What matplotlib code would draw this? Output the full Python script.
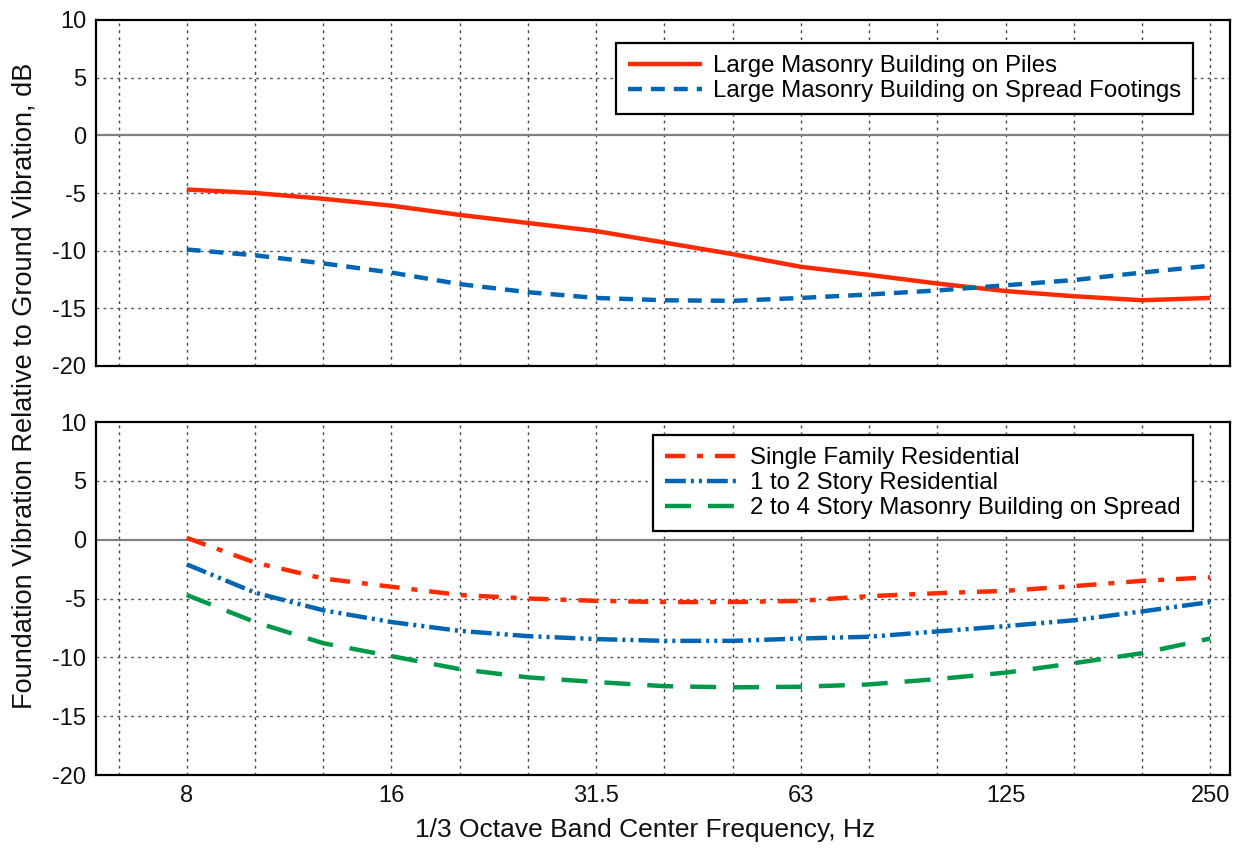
import matplotlib
matplotlib.use("Agg")
import matplotlib.pyplot as plt
import numpy as np

plt.rcParams['font.family'] = ['Liberation Sans', 'DejaVu Sans']
plt.rcParams['lines.scale_dashes'] = False

# 1/3 octave band centre frequencies (Hz) shown on the chart
bands = ['6.3', '8', '10', '12.5', '16', '20', '25', '31.5', '40', '50',
         '63', '80', '100', '125', '160', '200', '250']
data_bands = bands[1:]  # curves span 8 .. 250 Hz
tick_labels = ['8', '16', '31.5', '63', '125', '250']

# Upper panel
piles = [-4.7, -5.0, -5.5, -6.1, -6.9, -7.6, -8.3, -9.3, -10.3, -11.4,
         -12.1, -12.85, -13.5, -13.95, -14.3, -14.1]
spread_footings = [-9.9, -10.4, -11.1, -11.9, -12.9, -13.6, -14.1, -14.3, -14.35,
                   -14.1, -13.8, -13.45, -13.0, -12.55, -11.9, -11.3]

# Lower panel
single_family = [0.15, -1.95, -3.3, -4.0, -4.7, -5.0, -5.2, -5.3, -5.3, -5.2,
                 -4.8, -4.55, -4.35, -3.95, -3.5, -3.2]
story_1_2 = [-2.1, -4.5, -6.0, -7.0, -7.75, -8.2, -8.45, -8.6, -8.6, -8.4,
             -8.25, -7.8, -7.35, -6.85, -6.1, -5.3]
story_2_4 = [-4.7, -7.0, -8.8, -9.9, -11.0, -11.7, -12.1, -12.45, -12.55, -12.5,
             -12.3, -11.85, -11.3, -10.5, -9.65, -8.4]

RED = '#ff2a00'
BLUE = '#0066b3'
GREEN = '#00994a'

pos = {b: i for i, b in enumerate(bands)}
x = [pos[b] for b in data_bands]

fig = plt.figure(figsize=(12.36, 8.48), dpi=100)
W, H = 1236, 848
ax1 = fig.add_axes([96 / W, 1 - 366 / H, (1230 - 96) / W, (366 - 20) / H])
ax2 = fig.add_axes([96 / W, 1 - 775 / H, (1230 - 96) / W, (775 - 422) / H])

lw = 3.2
ax1.plot(x, piles, color=RED, lw=lw, solid_capstyle='butt',
         label='Large Masonry Building on Piles', zorder=3)
ax1.plot(x, spread_footings, color=BLUE, lw=lw, ls=(0, (10, 6.5)),
         label='Large Masonry Building on Spread Footings', zorder=3)

ax2.plot(x, single_family, color=RED, lw=lw, ls=(0, (14.4, 8.6, 4.3, 8.6)),
         label='Single Family Residential', zorder=3)
ax2.plot(x, story_1_2, color=BLUE, lw=lw, ls=(0, (15, 3.6, 2.2, 3.6, 2.2, 3.6)),
         label='1 to 2 Story Residential', zorder=3)
ax2.plot(x, story_2_4, color=GREEN, lw=lw, ls=(0, (18.7, 12.2)),
         label='2 to 4 Story Masonry Building on Spread', zorder=3)

tick_pos = [pos[t] for t in tick_labels]
for ax in (ax1, ax2):
    ax.set_xlim(-0.33, 16.29)
    ax.set_ylim(-20, 10)
    ax.set_yticks(np.arange(-20, 11, 5))
    ax.set_yticklabels([str(v) for v in np.arange(-20, 11, 5)])
    for v in (-15, -10, -5, 5):
        ax.axhline(v, color='#555555', lw=1.0, ls=(0, (2, 3)), zorder=1)
    for i in range(len(bands)):
        ax.axvline(i, color='#444444', lw=1.0, ls=(0, (2, 3)), zorder=1)
    ax.axhline(0, color='#808080', lw=1.6, zorder=2)
    for s in ax.spines.values():
        s.set_linewidth(1.6)
        s.set_color('black')
        s.set_zorder(5)
    ax.tick_params(axis='both', length=0, labelsize=17, pad=7, colors='#111111')
    ax.set_xticks(tick_pos)

ax1.set_xticklabels([])
ax2.set_xticklabels(tick_labels)

leg_kw = dict(loc='upper right', fontsize=17.3, frameon=True, fancybox=False,
              edgecolor='black', handlelength=3.1, handletextpad=0.45,
              labelspacing=0.13, borderpad=0.5, borderaxespad=0)
l1 = ax1.legend(bbox_to_anchor=((1193 - 96) / (1230 - 96), (366 - 43) / (366 - 20)), **leg_kw)
l2 = ax2.legend(bbox_to_anchor=((1193 - 96) / (1230 - 96), (775 - 435) / (775 - 422)), **leg_kw)
for l in (l1, l2):
    l.get_frame().set_linewidth(1.6)
    l.get_frame().set_alpha(1)

fig.text(25 / W, 1 - 386 / H, 'Foundation Vibration Relative to Ground Vibration, dB',
         rotation=90, ha='center', va='center', fontsize=19.5, color='#111111')
fig.text(645 / W, 1 - 830 / H, '1/3 Octave Band Center Frequency, Hz',
         ha='center', va='center', fontsize=19, color='#111111')

fig.savefig('out.png', dpi=100)
